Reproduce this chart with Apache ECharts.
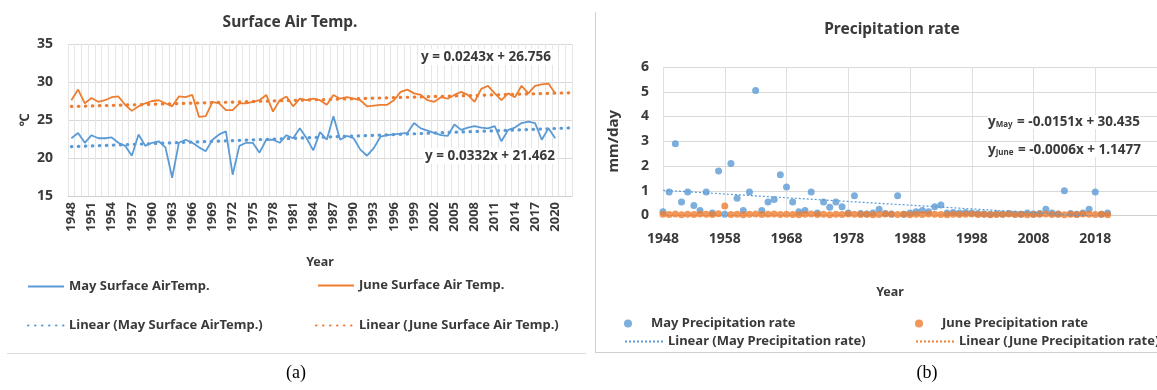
<!DOCTYPE html>
<html>
<head>
<meta charset="utf-8">
<script src="https://cdn.jsdelivr.net/npm/echarts@6/dist/echarts.min.js"></script>
<style>
  html, body { margin: 0; padding: 0; background: #fff; }
  #main { width: 1157px; height: 390px; }
</style>
</head>
<body>
<div id="main"></div>
<script>
// (a) surface air temperature, category axis runs 1948-2022, data ends 2020
var tempYears = Array.from({ length: 75 }, function (_, i) { return String(1948 + i); });
var mayTemp = [
  22.6, 23.3, 22.0, 23.0, 22.6, 22.6, 22.7, 22.0, 21.6, 20.3,
  23.1, 21.6, 22.0, 22.2, 21.4, 17.4, 22.0, 22.4, 22.0, 21.4,
  20.9, 22.4, 23.1, 23.5, 17.8, 21.6, 22.0, 22.0, 20.7, 22.4,
  22.4, 22.0, 23.0, 22.6, 23.9, 22.6, 21.0, 23.4, 22.4, 25.5,
  22.4, 22.9, 22.6, 21.1, 20.3, 21.3, 22.8, 23.0, 23.1, 23.2,
  23.3, 24.6, 23.9, 23.6, 23.3, 23.0, 22.9, 24.4, 23.7, 24.0,
  24.2, 24.0, 23.9, 24.2, 22.2, 23.7, 24.0, 24.6, 24.8, 24.6,
  22.4, 23.9, 22.6
];
var juneTemp = [
  27.6, 29.0, 27.2, 27.9, 27.4, 27.6, 28.0, 28.1, 27.0, 26.2,
  26.8, 27.2, 27.5, 27.6, 27.2, 26.8, 28.1, 28.0, 28.3, 25.4,
  25.5, 27.4, 27.2, 26.3, 26.3, 27.2, 27.2, 27.4, 27.6, 28.3,
  26.1, 27.6, 28.1, 26.8, 27.8, 27.6, 27.8, 27.6, 27.0, 28.3,
  27.8, 28.0, 27.8, 27.6, 26.8, 26.9, 27.0, 27.0, 27.6, 28.7,
  29.0, 28.5, 28.3, 27.6, 27.4, 28.0, 27.8, 28.3, 28.7, 28.3,
  27.4, 29.1, 29.5, 28.5, 27.6, 28.5, 28.0, 29.5, 28.5, 29.5,
  29.7, 29.8, 28.5
];
var mayTempFit = [0.0332, 21.462];   // slope, intercept (x = 1, 2, ...)
var juneTempFit = [0.0243, 26.756];

// (b) precipitation rate, 1948-2020
var rainYears = Array.from({ length: 73 }, function (_, i) { return 1948 + i; });
var mayRain = [
  0.15, 0.95, 2.9, 0.55, 0.95, 0.4, 0.2, 0.95, 0.1, 1.8,
  0.05, 2.1, 0.7, 0.2, 0.95, 5.05, 0.2, 0.55, 0.65, 1.65,
  1.15, 0.55, 0.15, 0.2, 0.95, 0.1, 0.55, 0.33, 0.55, 0.35,
  0.1, 0.8, 0.08, 0.06, 0.1, 0.25, 0.08, 0.06, 0.8, 0.05,
  0.1, 0.15, 0.2, 0.15, 0.35, 0.42, 0.1, 0.12, 0.1, 0.12,
  0.1, 0.08, 0.06, 0.05, 0.07, 0.05, 0.08, 0.06, 0.05, 0.1,
  0.06, 0.08, 0.25, 0.1, 0.06, 1.0, 0.08, 0.05, 0.1, 0.25,
  0.95, 0.05, 0.1
];
var juneRain = [
  0.05, 0.04, 0.06, 0.03, 0.05, 0.04, 0.06, 0.05, 0.04, 0.07,
  0.38, 0.04, 0.05, 0.03, 0.05, 0.06, 0.04, 0.05, 0.06, 0.04,
  0.05, 0.04, 0.03, 0.05, 0.06, 0.04, 0.05, 0.03, 0.05, 0.04,
  0.06, 0.05, 0.04, 0.05, 0.03, 0.04, 0.06, 0.05, 0.04, 0.05,
  0.03, 0.05, 0.04, 0.06, 0.05, 0.04, 0.03, 0.05, 0.04, 0.05,
  0.06, 0.04, 0.05, 0.03, 0.04, 0.05, 0.06, 0.04, 0.05, 0.03,
  0.04, 0.05, 0.06, 0.04, 0.05, 0.03, 0.05, 0.04, 0.06, 0.05,
  0.04, 0.05, 0.03
];
var mayRainFit = [-0.0151, 30.435];  // slope, intercept (x = year)
var juneRainFit = [-0.0006, 1.1477];

var BLUE = '#5B9BD5', ORANGE = '#ED7D31', TXT = '#3a3a3a';
var FONT = 'Noto Sans';

function trendByIndex(fit) {
  return tempYears.map(function (_, i) { return +(fit[0] * (i + 1) + fit[1]).toFixed(3); });
}
function trendByYear(fit) {
  return rainYears.map(function (y) { return [y, +(fit[0] * y + fit[1]).toFixed(4)]; });
}
function pairs(vals) {
  return rainYears.map(function (y, i) { return [y, vals[i]]; });
}
// lineOnly: hide the marker that echarts puts in the middle of a line legend icon
function leg(name, left, top, w, h, lineOnly) {
  var l = {
    data: [name], left: left, top: top, itemWidth: w, itemHeight: h,
    padding: 0, selectedMode: false,
    textStyle: { fontFamily: FONT, fontWeight: 'bold', fontSize: 13, color: TXT }
  };
  if (lineOnly) l.itemStyle = { opacity: 0 };
  return l;
}
function label(text, x, y, size, extra) {
  var st = { text: text, x: x, y: y, fill: TXT, align: 'center', verticalAlign: 'middle',
             font: 'bold ' + size + 'px "' + FONT + '"' };
  for (var k in extra) st[k] = extra[k];
  return { type: 'text', z: 100, style: st };
}
function subEq(sub, rest, x, y) {
  return { type: 'text', z: 100, style: {
    text: '{b|y}{s|' + sub + '}{b|' + rest + '}', x: x, y: y,
    align: 'left', verticalAlign: 'middle', backgroundColor: '#fff',
    rich: { b: { fontFamily: FONT, fontWeight: 'bold', fontSize: 13.5, fill: TXT },
            s: { fontFamily: FONT, fontWeight: 'bold', fontSize: 8, fill: TXT, padding: [5, 1, 0, 0] } } } };
}

var dotted = [0.5, 6.5];
var chart = echarts.init(document.getElementById('main'));
chart.setOption({
  animation: false,
  textStyle: { fontFamily: FONT },
  grid: [
    { left: 68, top: 44, width: 504, height: 152 },
    { left: 663, top: 67, width: 550, height: 148.5 }
  ],
  xAxis: [
    {
      type: 'category', gridIndex: 0, data: tempYears, boundaryGap: true,
      axisLine: { lineStyle: { color: '#cfcfcf' } }, axisTick: { show: false },
      axisLabel: { interval: 2, rotate: 90, fontWeight: 'bold', fontSize: 13, color: TXT, margin: 6 },
      splitLine: { show: true, interval: 0, lineStyle: { color: '#e6e6e6' } }
    },
    {
      type: 'value', gridIndex: 1, min: 1948, max: 2028, interval: 10,
      axisLine: { lineStyle: { color: '#cfcfcf' } }, axisTick: { show: false },
      axisLabel: { fontWeight: 'bold', fontSize: 14, color: TXT, margin: 17, showMaxLabel: false,
                   formatter: function (v) { return String(v); } },
      splitLine: { show: true, lineStyle: { color: '#e0e0e0' } }
    }
  ],
  yAxis: [
    {
      type: 'value', gridIndex: 0, min: 15, max: 35, interval: 5,
      name: '℃', nameLocation: 'middle', nameRotate: 90, nameGap: 36,
      nameTextStyle: { fontWeight: 'bold', fontSize: 13, color: TXT },
      axisLine: { show: false }, axisTick: { show: false },
      axisLabel: { fontWeight: 'bold', fontSize: 14, color: TXT, margin: 15 },
      splitLine: { lineStyle: { color: '#d9d9d9' } }
    },
    {
      type: 'value', gridIndex: 1, min: 0, max: 6, interval: 1,
      name: 'mm/day', nameLocation: 'middle', nameRotate: 90, nameGap: 42,
      nameTextStyle: { fontWeight: 'bold', fontSize: 15, color: TXT },
      axisLine: { show: false }, axisTick: { show: false },
      axisLabel: { fontWeight: 'bold', fontSize: 14, color: TXT, margin: 14 },
      splitLine: { lineStyle: { color: '#d9d9d9' } }
    }
  ],
  legend: [
    leg('May Surface AirTemp.', 27, 280, 36, 14, true),
    leg('June Surface Air Temp.', 317, 279, 36, 14, true),
    leg('Linear (May Surface AirTemp.)', 27, 319, 36, 14, true),
    leg('Linear (June Surface Air Temp.)', 315, 319, 38, 14, true),
    leg('May Precipitation rate', 624, 317, 36, 8, false),
    leg('June Precipitation rate', 915, 317, 36, 8, false),
    leg('Linear (May Precipitation rate)', 624, 335, 38, 14, true),
    leg('Linear (June Precipitation rate)', 915, 335, 38, 14, true)
  ],
  series: [
    { name: 'May Surface AirTemp.', type: 'line', xAxisIndex: 0, yAxisIndex: 0, data: mayTemp,
      symbol: 'none', lineStyle: { color: BLUE, width: 1.8 }, itemStyle: { color: BLUE } },
    { name: 'June Surface Air Temp.', type: 'line', xAxisIndex: 0, yAxisIndex: 0, data: juneTemp,
      symbol: 'none', lineStyle: { color: ORANGE, width: 1.8 }, itemStyle: { color: ORANGE } },
    { name: 'Linear (May Surface AirTemp.)', type: 'line', xAxisIndex: 0, yAxisIndex: 0,
      data: trendByIndex(mayTempFit), symbol: 'none', itemStyle: { color: BLUE },
      lineStyle: { color: BLUE, width: 3.2, type: dotted, cap: 'round' } },
    { name: 'Linear (June Surface Air Temp.)', type: 'line', xAxisIndex: 0, yAxisIndex: 0,
      data: trendByIndex(juneTempFit), symbol: 'none', itemStyle: { color: ORANGE },
      lineStyle: { color: ORANGE, width: 3.2, type: dotted, cap: 'round' } },

    { name: 'Linear (May Precipitation rate)', type: 'line', xAxisIndex: 1, yAxisIndex: 1,
      data: trendByYear(mayRainFit), symbol: 'none', itemStyle: { color: BLUE },
      lineStyle: { color: BLUE, width: 1.2, type: [2, 2] } },
    { name: 'Linear (June Precipitation rate)', type: 'line', xAxisIndex: 1, yAxisIndex: 1,
      data: trendByYear(juneRainFit), symbol: 'none', itemStyle: { color: ORANGE },
      lineStyle: { color: ORANGE, width: 1.2, type: [2, 2] } },
    { name: 'May Precipitation rate', type: 'scatter', xAxisIndex: 1, yAxisIndex: 1,
      data: pairs(mayRain), symbolSize: 7, itemStyle: { color: BLUE } },
    { name: 'June Precipitation rate', type: 'scatter', xAxisIndex: 1, yAxisIndex: 1,
      data: pairs(juneRain), symbolSize: 7, itemStyle: { color: ORANGE } }
  ],
  graphic: [
    label('Surface Air Temp.', 290, 23, 15.5),
    label('Precipitation rate', 892, 30, 15.5),
    label('y = 0.0243x + 26.756', 486, 57, 13.5, { backgroundColor: '#fff', padding: [1, 2] }),
    label('y = 0.0332x + 21.462', 490, 156, 13.5, { backgroundColor: '#fff', padding: [1, 2] }),
    label('Year', 320, 262, 12.5),
    label('Year', 890, 292, 12.5),
    subEq('May', ' = -0.0151x + 30.435', 988, 122),
    subEq('June', ' = -0.0006x + 1.1477', 988, 150),
    { type: 'text', style: { text: '(a)', x: 296, y: 373, align: 'center', verticalAlign: 'middle',
        font: '18px "Liberation Serif"', fill: '#000' } },
    { type: 'text', style: { text: '(b)', x: 927, y: 373, align: 'center', verticalAlign: 'middle',
        font: '18px "Liberation Serif"', fill: '#000' } },
    // panel frames
    { type: 'line', shape: { x1: 7, y1: 353.5, x2: 586, y2: 353.5 }, style: { stroke: '#dcdcdc', lineWidth: 1 } },
    { type: 'line', shape: { x1: 595.5, y1: 12, x2: 595.5, y2: 352 }, style: { stroke: '#d0d0d0', lineWidth: 1 } },
    { type: 'line', shape: { x1: 595, y1: 352.5, x2: 1157, y2: 352.5 }, style: { stroke: '#d0d0d0', lineWidth: 1 } }
  ]
});
</script>
</body>
</html>
